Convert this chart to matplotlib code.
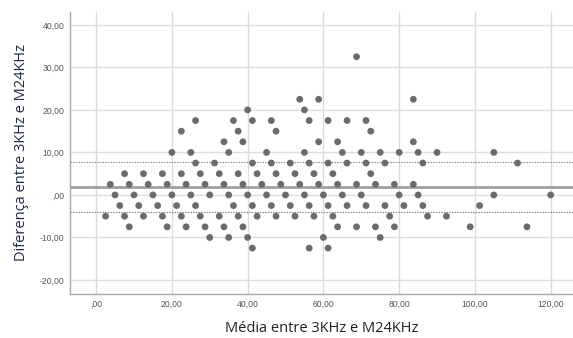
import numpy as np
import matplotlib
matplotlib.use('Agg')
import matplotlib.pyplot as plt

# difference levels (rows of the lattice) and the means found at each level
diff_levels = [32.5, 22.5, 20.0, 17.5, 15.0, 12.5, 10.0, 7.5, 5.0, 2.5, 0.0,
               -2.5, -5.0, -7.5, -10.0, -12.5]
means_at_level = [
    [68.75],
    [53.75, 58.75, 83.75],
    [40, 55],
    [26.25, 36.25, 41.25, 46.25, 56.25, 61.25, 66.25, 71.25],
    [22.5, 37.5, 47.5, 72.5],
    [33.75, 38.75, 58.75, 63.75, 83.75],
    [20, 25, 35, 45, 55, 65, 70, 75, 80, 85, 90, 105],
    [26.25, 31.25, 41.25, 46.25, 51.25, 56.25, 61.25, 66.25, 71.25, 76.25, 86.25, 111.25],
    [7.5, 12.5, 17.5, 22.5, 27.5, 32.5, 37.5, 42.5, 47.5, 52.5, 57.5, 62.5, 72.5],
    [3.75, 8.75, 13.75, 18.75, 23.75, 28.75, 33.75, 38.75, 43.75, 48.75, 53.75,
     58.75, 63.75, 68.75, 73.75, 78.75, 83.75],
    [5, 10, 15, 20, 25, 30, 35, 40, 45, 50, 55, 60, 65, 70, 80, 85, 105, 120],
    [6.25, 11.25, 16.25, 21.25, 26.25, 36.25, 41.25, 46.25, 51.25, 56.25, 61.25,
     66.25, 71.25, 76.25, 81.25, 86.25, 101.25],
    [2.5, 7.5, 12.5, 17.5, 22.5, 27.5, 32.5, 37.5, 42.5, 47.5, 52.5, 57.5, 62.5,
     77.5, 87.5, 92.5],
    [8.75, 18.75, 23.75, 28.75, 33.75, 38.75, 63.75, 68.75, 73.75, 78.75, 98.75, 113.75],
    [30, 35, 40, 60, 75],
    [41.25, 56.25, 61.25],
]

# mean difference and limits of agreement
mean_diff = 1.85
upper_loa = 7.8
lower_loa = -4.1

x_ticks = [0, 20, 40, 60, 80, 100, 120]
y_ticks = [-20, -10, 0, 10, 20, 30, 40]


def fmt(v):
    """SPSS style label: comma decimal, no leading zero."""
    s = '%.2f' % v
    s = s.replace('.', ',')
    if s.startswith('0,'):
        s = s[1:]
    return s


def main():
    media = []
    diferenca = []
    for d, ms in zip(diff_levels, means_at_level):
        media.extend(ms)
        diferenca.extend([d] * len(ms))

    fig = plt.figure(figsize=(5.73, 3.38), dpi=100)
    ax = fig.add_axes([70 / 573, 44 / 338, 1 - 70 / 573, (294 - 11.7) / 338])

    ax.set_xlim(-6.9, 125.9)
    ax.set_ylim(-23.3, 43.1)

    ax.set_xticks(x_ticks)
    ax.set_yticks(y_ticks)
    ax.set_xticklabels([fmt(v) for v in x_ticks])
    ax.set_yticklabels([fmt(v) for v in y_ticks])
    ax.tick_params(length=0, labelsize=6.2, labelcolor='#555555', pad=4)
    for lab in ax.get_xticklabels() + ax.get_yticklabels():
        lab.set_family('Liberation Sans')

    ax.grid(True, color='#dcdcdc', linewidth=1)
    ax.set_axisbelow(True)
    for side in ['top', 'right']:
        ax.spines[side].set_visible(False)
    for side in ['left', 'bottom']:
        ax.spines[side].set_color('#a8a8a8')
        ax.spines[side].set_linewidth(1)

    ax.axhline(mean_diff, color='#a0a0a0', linewidth=2, zorder=2)
    ax.axhline(upper_loa, color='#7a7a7a', linewidth=0.8, linestyle=(0, (1.2, 1.2)), zorder=2)
    ax.axhline(lower_loa, color='#7a7a7a', linewidth=0.8, linestyle=(0, (1.2, 1.2)), zorder=2)

    ax.scatter(media, diferenca, s=24, color='#6b6b6b', edgecolors='none', zorder=3)

    ax.set_xlabel('Média entre 3KHz e M24KHz', fontsize=10.5, family='Open Sans',
                  color='#222222', labelpad=9)
    ax.set_ylabel('Diferença entre 3KHz e M24KHz', fontsize=10.5, family='Open Sans',
                  color='#1f2a44', labelpad=8)

    fig.savefig('out.png', dpi=100)


if __name__ == '__main__':
    main()
